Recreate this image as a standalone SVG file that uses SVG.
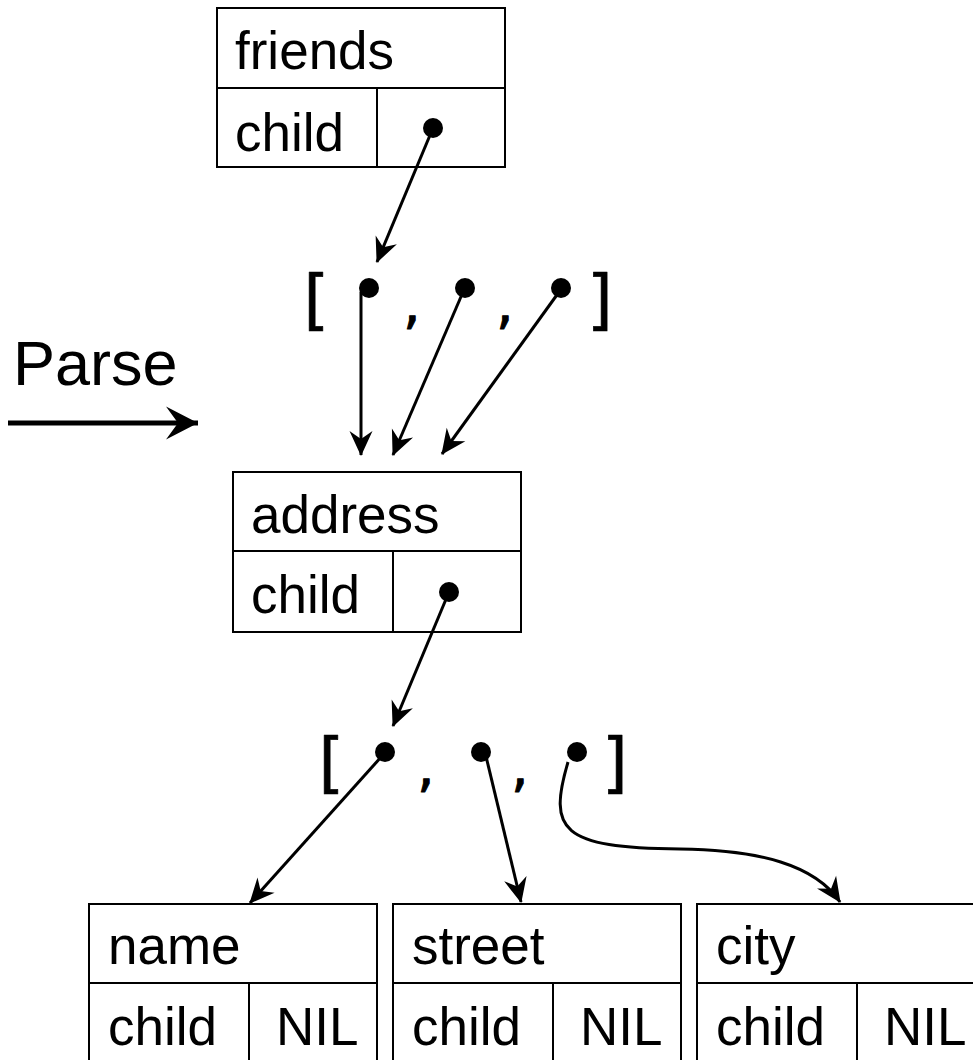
<svg xmlns="http://www.w3.org/2000/svg" width="973" height="1060" viewBox="0 0 973 1060">
  <style>
    .box { fill: #ffffff; stroke: #000000; stroke-width: 2; }
    .sep { stroke: #000000; stroke-width: 2; fill: none; }
    .lbl { font-family: "Liberation Sans", Arial, sans-serif; font-size: 53px; fill: #000000; }
    .big { font-family: "Liberation Sans", Arial, sans-serif; font-size: 63px; fill: #000000; }
    .brk { font-family: "DejaVu Sans Mono", "Liberation Mono", monospace; font-size: 66px; fill: #000000; stroke: #000000; stroke-width: 0.7; stroke-linejoin: round; text-anchor: middle; }
    .cma { font-family: "DejaVu Sans Mono", "Liberation Mono", monospace; font-size: 46px; fill: #000000; stroke: #000000; stroke-width: 1; stroke-linejoin: round; text-anchor: middle; }
    .dot { fill: #000000; }
    .conn { stroke: #000000; stroke-width: 3; fill: none; marker-end: url(#arrow); }
  </style>
  <defs>
    <marker id="arrow" markerUnits="userSpaceOnUse" markerWidth="30" markerHeight="30" viewBox="-28 -15 30 30" refX="0" refY="0" orient="auto" overflow="visible">
      <path d="M1,0 L-24,-11.5 L-16,0 L-24,11.5 Z" fill="#000000"/>
    </marker>
    <marker id="bigArrow" markerUnits="userSpaceOnUse" markerWidth="36" markerHeight="36" viewBox="-34 -18 36 36" refX="0" refY="0" orient="auto" overflow="visible">
      <path d="M0,0 L-32,-16.5 L-20,0 L-32,16.5 Z" fill="#000000"/>
    </marker>
  </defs>

  <rect width="973" height="1060" fill="#ffffff"/>

  <!-- Parse label and arrow -->
  <g id="parse">
    <text class="big" x="13" y="385">Parse</text>
    <line x1="8" y1="423" x2="198" y2="423" stroke="#000000" stroke-width="5" marker-end="url(#bigArrow)"/>
  </g>

  <!-- friends record -->
  <g id="friends">
    <rect class="box" x="217" y="8" width="288" height="159"/>
    <line class="sep" x1="217" y1="88" x2="505" y2="88"/>
    <line class="sep" x1="377" y1="88" x2="377" y2="167"/>
    <text class="lbl" x="235" y="69">friends</text>
    <text class="lbl" x="235" y="151">child</text>
    <circle class="dot" cx="433" cy="128" r="10"/>
  </g>

  <!-- first list: [ . , . , . ] -->
  <g id="list1">
    <text class="brk" x="314" y="322">[</text>
    <text class="cma" x="412" y="323">,</text>
    <text class="cma" x="505" y="323">,</text>
    <text class="brk" x="602" y="322">]</text>
    <circle class="dot" cx="369" cy="288" r="10"/>
    <circle class="dot" cx="465" cy="288" r="10"/>
    <circle class="dot" cx="561" cy="288" r="10"/>
  </g>

  <!-- address record -->
  <g id="address">
    <rect class="box" x="233" y="472" width="288" height="160"/>
    <line class="sep" x1="233" y1="551" x2="521" y2="551"/>
    <line class="sep" x1="393" y1="551" x2="393" y2="632"/>
    <text class="lbl" x="251" y="533">address</text>
    <text class="lbl" x="251" y="613">child</text>
    <circle class="dot" cx="449" cy="592" r="10"/>
  </g>

  <!-- second list: [ . , . , . ] -->
  <g id="list2">
    <text class="brk" x="329" y="785">[</text>
    <text class="cma" x="426" y="786">,</text>
    <text class="cma" x="520" y="786">,</text>
    <text class="brk" x="617" y="785">]</text>
    <circle class="dot" cx="385" cy="752" r="10"/>
    <circle class="dot" cx="481" cy="752" r="10"/>
    <circle class="dot" cx="577" cy="752" r="10"/>
  </g>

  <!-- leaf records -->
  <g id="name">
    <rect class="box" x="89" y="904" width="288" height="200"/>
    <line class="sep" x1="89" y1="983" x2="377" y2="983"/>
    <line class="sep" x1="249" y1="983" x2="249" y2="1060"/>
    <text class="lbl" x="108" y="964">name</text>
    <text class="lbl" x="108" y="1045">child</text>
    <text class="lbl" x="276" y="1045">NIL</text>
  </g>
  <g id="street">
    <rect class="box" x="393" y="904" width="288" height="200"/>
    <line class="sep" x1="393" y1="983" x2="681" y2="983"/>
    <line class="sep" x1="553" y1="983" x2="553" y2="1060"/>
    <text class="lbl" x="412" y="964">street</text>
    <text class="lbl" x="412" y="1045">child</text>
    <text class="lbl" x="580" y="1045">NIL</text>
  </g>
  <g id="city">
    <rect class="box" x="697" y="904" width="288" height="200"/>
    <line class="sep" x1="697" y1="983" x2="985" y2="983"/>
    <line class="sep" x1="857" y1="983" x2="857" y2="1060"/>
    <text class="lbl" x="716" y="964">city</text>
    <text class="lbl" x="716" y="1045">child</text>
    <text class="lbl" x="884" y="1045">NIL</text>
  </g>

  <!-- pointer connectors -->
  <g id="connectors">
    <path class="conn" d="M433,128 L377,262"/>
    <path class="conn" d="M361,292 L361,455"/>
    <path class="conn" d="M463,292 L393,455"/>
    <path class="conn" d="M559,292 L442,454"/>
    <path class="conn" d="M449,592 L393,726"/>
    <path class="conn" d="M382,756 L250,903"/>
    <path class="conn" d="M484,748 L521,902"/>
    <path class="conn" d="M568,762 C548,830 560,848 680,849 C760,850 815,865 840,902"/>
  </g>
</svg>
